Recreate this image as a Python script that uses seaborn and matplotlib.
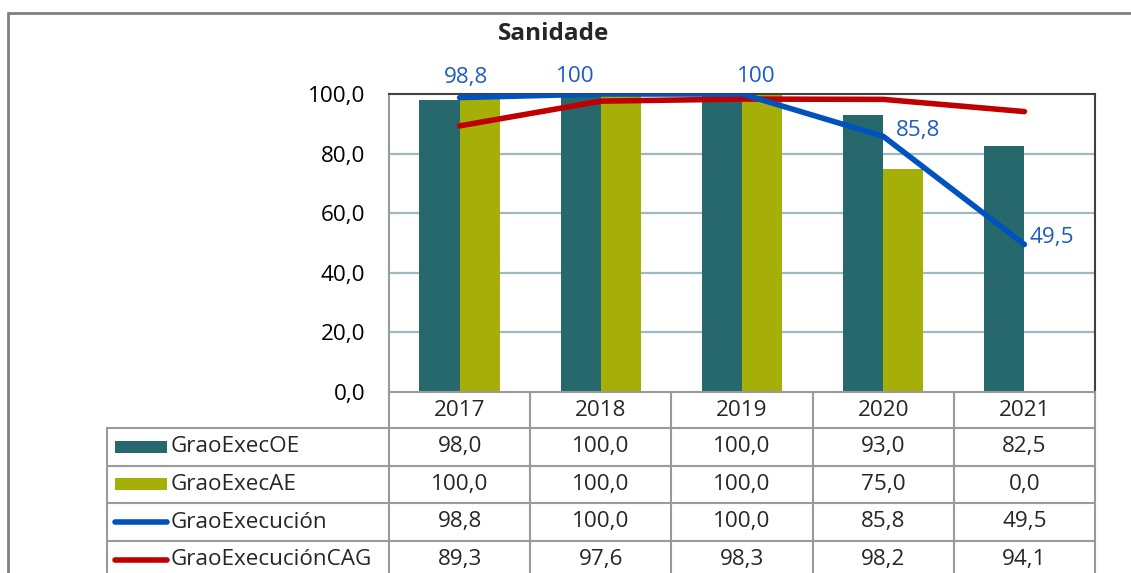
import numpy as np
import pandas as pd
import matplotlib.pyplot as plt
import seaborn as sns
from matplotlib.lines import Line2D
from matplotlib.patches import Rectangle
from matplotlib.ticker import FuncFormatter

years = ['2017', '2018', '2019', '2020', '2021']
exec_oe = [98.0, 100.0, 100.0, 93.0, 82.5]
exec_ae = [100.0, 100.0, 100.0, 75.0, 0.0]
execucion = [98.8, 100.0, 100.0, 85.8, 49.5]
execucion_cag = [89.3, 97.6, 98.3, 98.2, 94.1]
point_labels = ['98,8', '100', '100', '85,8', '49,5']

teal = '#27686C'
olive = '#A5AF07'
blue = '#0052BF'
red = '#C00000'
grid_c = '#9DBBBE'
table_c = '#9A9A9A'
fs = 16.2

sns.set_style('white')
plt.rcParams['font.family'] = ['Open Sans', 'DejaVu Sans']

fig = plt.figure(figsize=(11.31, 5.73), dpi=100)
ax = fig.add_axes([389 / 1131, 1 - 392 / 573, 706 / 1131, 298 / 573])

bars = pd.DataFrame({
    'year': years * 2,
    'serie': ['GraoExecOE'] * 5 + ['GraoExecAE'] * 5,
    'valor': exec_oe + exec_ae,
})
sns.barplot(data=bars, x='year', y='valor', hue='serie', order=years,
            palette=[teal, olive], width=0.57, gap=0, legend=False,
            linewidth=0, saturation=1, ax=ax, zorder=2)

xpos = np.arange(len(years))
sns.lineplot(x=xpos, y=execucion, color=blue, linewidth=4, ax=ax,
             solid_capstyle='round', zorder=4)
sns.lineplot(x=xpos, y=execucion_cag, color=red, linewidth=4, ax=ax,
             solid_capstyle='round', zorder=3)

# data labels for GraoExecución (placed by hand like in the original)
offsets = [(6, 20), (-26, 17), (14, 17), (35, 6), (27, 7)]
for x, y, txt, off in zip(xpos, execucion, point_labels, offsets):
    ax.annotate(txt, (x, y), xytext=off, textcoords='offset pixels',
                ha='center', va='center', fontsize=fs, color='#1D5CC4',
                annotation_clip=False, zorder=5)

ax.set_xlim(-0.5, len(years) - 0.5)
ax.set_ylim(0, 100)
ax.set_yticks(np.arange(0, 101, 20))
ax.yaxis.set_major_formatter(FuncFormatter(lambda v, p: f'{v:.1f}'.replace('.', ',')))
ax.tick_params(axis='y', length=0, pad=17, labelsize=fs, labelcolor='black')
ax.set_xticks([])
ax.set_xlabel('')
ax.set_ylabel('')
for v in [20, 40, 60, 80]:
    ax.axhline(v, color=grid_c, linewidth=1.6, zorder=1)

ax.spines['top'].set_color('#404040')
ax.spines['right'].set_color('#404040')
ax.spines['left'].set_color(table_c)
ax.spines['bottom'].set_color(table_c)
for s in ax.spines.values():
    s.set_linewidth(1.5)

fig.text(554 / 1131, 1 - 34 / 573, 'Sanidade', ha='center', va='center',
         fontsize=17.5, fontweight='bold')

# data table under the chart
tr = ax.get_xaxis_transform()
head_h = 36 / 298
row_h = 37.6 / 298
left = -2.5
right = len(years) - 0.5
bottom = -1.0

for x in np.arange(-0.5, len(years)):
    ax.add_line(Line2D([x, x], [0, bottom], transform=tr, color=table_c,
                       linewidth=1.5, clip_on=False))
ax.add_line(Line2D([left, left], [-head_h, bottom], transform=tr, color=table_c,
                   linewidth=1.5, clip_on=False))
for i in range(4):
    y = -head_h - i * row_h
    ax.add_line(Line2D([left, right], [y, y], transform=tr, color=table_c,
                       linewidth=1.5, clip_on=False))

for x, yr in zip(xpos, years):
    ax.text(x, -head_h / 2, yr, transform=tr, ha='center', va='center',
            fontsize=fs, clip_on=False)

rows = [
    ('GraoExecOE', exec_oe, teal, 'bar'),
    ('GraoExecAE', exec_ae, olive, 'bar'),
    ('GraoExecución', execucion, blue, 'line'),
    ('GraoExecuciónCAG', execucion_cag, red, 'line'),
]
for i, (name, vals, col, kind) in enumerate(rows):
    yc = -head_h - (i + 0.5) * row_h
    if kind == 'bar':
        ax.add_patch(Rectangle((-2.443, yc - 0.02), 0.368, 0.04, transform=tr,
                               facecolor=col, edgecolor='none', clip_on=False))
    else:
        ax.add_line(Line2D([-2.443, -2.075], [yc, yc], transform=tr, color=col,
                           linewidth=4, solid_capstyle='round', clip_on=False))
    ax.text(-2.045, yc, name, transform=tr, ha='left', va='center',
            fontsize=fs, clip_on=False)
    for x, v in zip(xpos, vals):
        ax.text(x, yc, f'{v:.1f}'.replace('.', ','), transform=tr, ha='center',
                va='center', fontsize=fs, clip_on=False)

# outer chart frame (left and top edges visible)
fig.add_artist(Line2D([8 / 1131, 8 / 1131], [0, 1 - 13 / 573], color='#808080', linewidth=2))
fig.add_artist(Line2D([8 / 1131, 1], [1 - 13 / 573, 1 - 13 / 573], color='#808080', linewidth=2))

fig.savefig('out.png', dpi=100)
